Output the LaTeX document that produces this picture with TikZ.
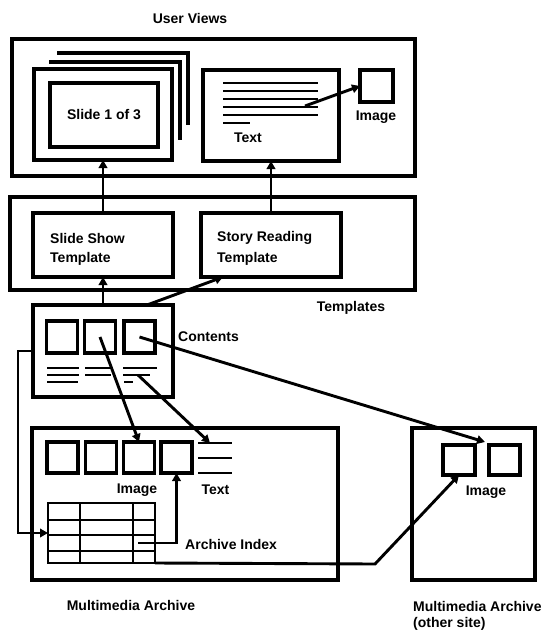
\documentclass[tikz,border=0pt]{standalone}
\usepackage{fontspec}
\setmainfont{Liberation Sans}
\usetikzlibrary{arrows.meta,calc}
\begin{document}
\begin{tikzpicture}[x=1pt,y=-1pt,
  box/.style={draw, line width=3.1pt, inner sep=0pt, outer sep=0pt},
  sq/.style={box, minimum width=31pt, minimum height=31pt},
  tl/.style={line width=2.9pt},
  arr/.style={line width=2.9pt, -{Triangle[length=8pt,width=8.5pt]}},
  lab/.style={font=\fontsize{14}{16}\selectfont\bfseries, inner sep=0pt}]
\useasboundingbox (0,0) rectangle (545,632);

% ---------- User Views ----------
\node[lab] (uvlab) at (190,18) {User Views};
\node[box, minimum width=403pt, minimum height=137pt] (uv) at (213.5,107.5) {};
\draw[tl, line width=3.2pt] (57,53) -- (188,53) -- (188,125);
\draw[tl, line width=3.2pt] (49,62) -- (180,62) -- (180,140);
\node[box, line width=3.4pt, minimum width=138pt, minimum height=91pt] (frame) at (103,114.5) {};
\node[box, line width=3.4pt, minimum width=108pt, minimum height=64pt, lab] (slide) at (104,115) {Slide 1 of 3};
\node[box, minimum width=136pt, minimum height=91pt] (tview) at (271,115.5) {};
\foreach \yy in {83,91,99,107,115} \draw[tl, line width=2.7pt] (223,\yy) -- (318,\yy);
\draw[tl, line width=2.7pt] (223,123) -- (250,123);
\node[lab] (tvlab) at (248,138) {Text};
\node[box, minimum width=33pt, minimum height=32pt] (iview) at (376.5,86) {};
\node[lab] (ivlab) at (376,117) {Image};
\coordinate (tstart) at (305,106);
\draw[arr] (tstart) -- (iview.west);

% ---------- Templates ----------
\node[box, minimum width=405pt, minimum height=93pt] (tmpl) at (212.5,243.5) {};
\node[box, minimum width=140pt, minimum height=64pt] (sst) at (103,245) {};
\node[lab, anchor=west] (sstA) at (50,238) {Slide Show};
\node[lab, anchor=west] (sstB) at (50,259) {Template};
\node[box, minimum width=140pt, minimum height=64pt] (srt) at (271,245) {};
\node[lab, anchor=west] (srtA) at (217,238) {Story Reading};
\node[lab, anchor=west] (srtB) at (217,259) {Template};
\node[lab] (tmlab) at (351,308) {Templates};
\draw[arr] (sst.north) -- (frame.south);
\draw[arr] (srt.north) -- (tview.south);

% ---------- Contents ----------
\node[box, minimum width=140pt, minimum height=92pt] (contents) at (103,351) {};
\node[sq, minimum height=32pt] (c1) at (62,337) {};
\node[sq, minimum height=32pt] (c2) at (100,337) {};
\node[sq, minimum height=32pt] (c3) at (139.5,337) {};
\draw[tl] (47,368) -- (79,368) (47,375) -- (79,375) (47,382) -- (78,382);
\draw[tl] (85,368) -- (113,368) (85,375) -- (111,375);
\draw[tl] (123,368) -- (157,368) (123,375) -- (150,375) (124,382) -- (133,382);
\node[lab, anchor=west] (ctlab) at (178,337) {Contents};
\draw[arr] (contents.north) -- (sst.south);
\draw[arr] ($(contents.north)+(44,0)$) -- ($(srt.south)+(-48,0)$);

% ---------- Multimedia Archive ----------
\node[box, minimum width=306pt, minimum height=152pt] (arch) at (185,504) {};
\node[sq] (a1) at (62.5,457.5) {};
\node[sq] (a2) at (101,457.5) {};
\node[sq] (a3) at (139,457.5) {};
\node[sq] (a4) at (176.5,457.5) {};
\coordinate (atext) at (210,443);
\draw[tl] (198,443) -- (232,443) (198,458) -- (232,458) (198,473) -- (232,473);
\node[lab] (ailab) at (137,490) {Image};
\node[lab] (atlab) at (215.5,490) {Text};
\node[box, line width=2.8pt, minimum width=107pt, minimum height=60pt] (table) at (101.5,533) {};
\draw[line width=2.8pt] (80,503) -- (80,563) (133,503) -- (133,563)
  (48,520) -- (155,520) (48,535) -- (155,535) (48,551) -- (155,551);
\node[lab, anchor=west] (ailab2) at (185,544) {Archive Index};
\node[lab] (malab) at (131,605) {Multimedia Archive};
\coordinate (cell) at (138,543);
\draw[arr] (cell) -| (a4.south);
\draw[arr] (contents.west) -- ++(-15,0) |- (table.west);

% ---------- Other site ----------
\node[box, minimum width=123pt, minimum height=152pt] (other) at (473.5,504) {};
\node[sq, minimum width=32pt, minimum height=30pt] (o1) at (459,460) {};
\node[sq, minimum height=30pt] (o2) at (504.5,460) {};
\node[lab] (oilab) at (486,492) {Image};
\node[lab, anchor=west] (omA) at (413,606) {Multimedia Archive};
\node[lab, anchor=west] (omB) at (413,624) {(other site)};

% ---------- cross connectors ----------
\coordinate (c3lines) at (138,375);
\coordinate (bend) at (375,564);
\draw[arr] (c2.center) -- (a3.north);
\draw[arr] (c3lines) -- (atext);
\draw[arr] (c3.center) -- ($(o2.north west)+(-4,-3)$);
\draw[arr] (table.south east) -- (bend) -- (o1.south);
\end{tikzpicture}
\end{document}
